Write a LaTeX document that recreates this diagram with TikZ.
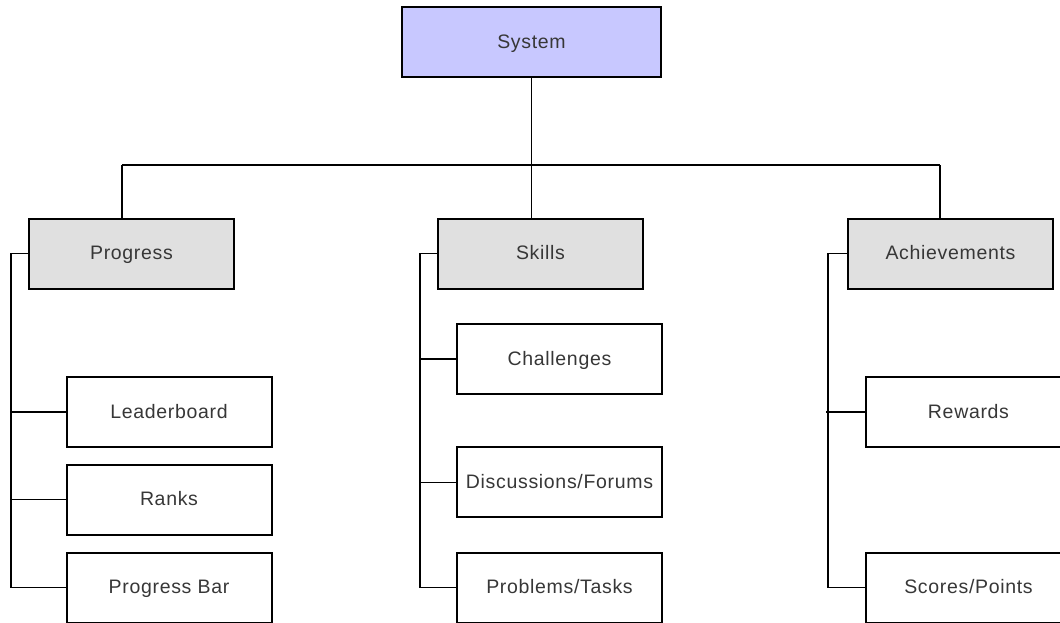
\documentclass[tikz,border=0pt]{standalone}
\usepackage{fontspec}
\setmainfont{Liberation Sans}[LetterSpace=3.5]
\usepackage{tikz}

\definecolor{topblue}{RGB}{200,200,255}
\definecolor{midgray}{RGB}{224,224,224}
\definecolor{txtgray}{RGB}{55,55,55}

\begin{document}
\begin{tikzpicture}[x=1pt, y=-1pt,
    box/.style={draw=black, line width=2pt, minimum width=205pt, minimum height=70pt,
        inner sep=0pt, text=txtgray, text height=13.5pt, text depth=1.5pt,
        font=\fontsize{19.5}{22}\selectfont},
    topbox/.style={box, fill=topblue, minimum width=259pt},
    groupbox/.style={box, fill=midgray},
    leafbox/.style={box, fill=white},
    wire/.style={line width=1.8pt}]
    \useasboundingbox (0,0) rectangle (1060,622);
    \clip (0,0) rectangle (1060,622);

    % Top level
    \node[topbox] (sys) at (531.5,42) {System};

    % Second level
    \node[groupbox] (prog) at (131.5,253.5) {Progress};
    \node[groupbox] (skills) at (540.5,253.5) {Skills};
    \node[groupbox] (ach) at (950.5,253.5) {Achievements};

    % Progress leaves
    \node[leafbox] (lead) at (169,412) {Leaderboard};
    \node[leafbox] (ranks) at (169,499.5) {Ranks};
    \node[leafbox] (bar) at (169,587.5) {Progress Bar};

    % Skills leaves
    \node[leafbox] (chal) at (559.5,359) {Challenges};
    \node[leafbox] (disc) at (559.5,482) {Discussions/Forums};
    \node[leafbox] (tasks) at (559.5,587.5) {Problems/Tasks};

    % Achievements leaves
    \node[leafbox] (rew) at (968.5,412) {Rewards};
    \node[leafbox] (score) at (968.5,587.5) {Scores/Points};

    % Bus under System
    \coordinate (busL) at (122,165);
    \coordinate (busR) at (940,165);
    \draw[wire] (busL) -- (busR);
    \draw[wire] (sys.south) -- (sys.south |- busL);
    \draw[wire] (busL) -- (busL |- prog.north);
    \draw[wire] (sys.south |- busL) -- (sys.south |- skills.north);
    \draw[wire] (busR) -- (busR |- ach.north);

    % Progress bracket
    \coordinate (pl) at (11,253.5);
    \draw[wire] (prog.west) -- (pl) |- (bar.west);
    \draw[wire] (pl |- lead.west) -- (lead.west);
    \draw[wire] (pl |- ranks.west) -- (ranks.west);

    % Skills bracket
    \coordinate (sl) at (420,253.5);
    \draw[wire] (skills.west) -- (sl) |- (tasks.west);
    \draw[wire] (sl |- chal.west) -- (chal.west);
    \draw[line width=1pt] (sl |- disc.west) -- (disc.west);

    % Achievements bracket
    \coordinate (al) at (828,253.5);
    \draw[wire] (ach.west) -- (al) |- (score.west);
    \draw[wire] ([xshift=-2pt]al |- rew.west) -- (rew.west);
\end{tikzpicture}
\end{document}
